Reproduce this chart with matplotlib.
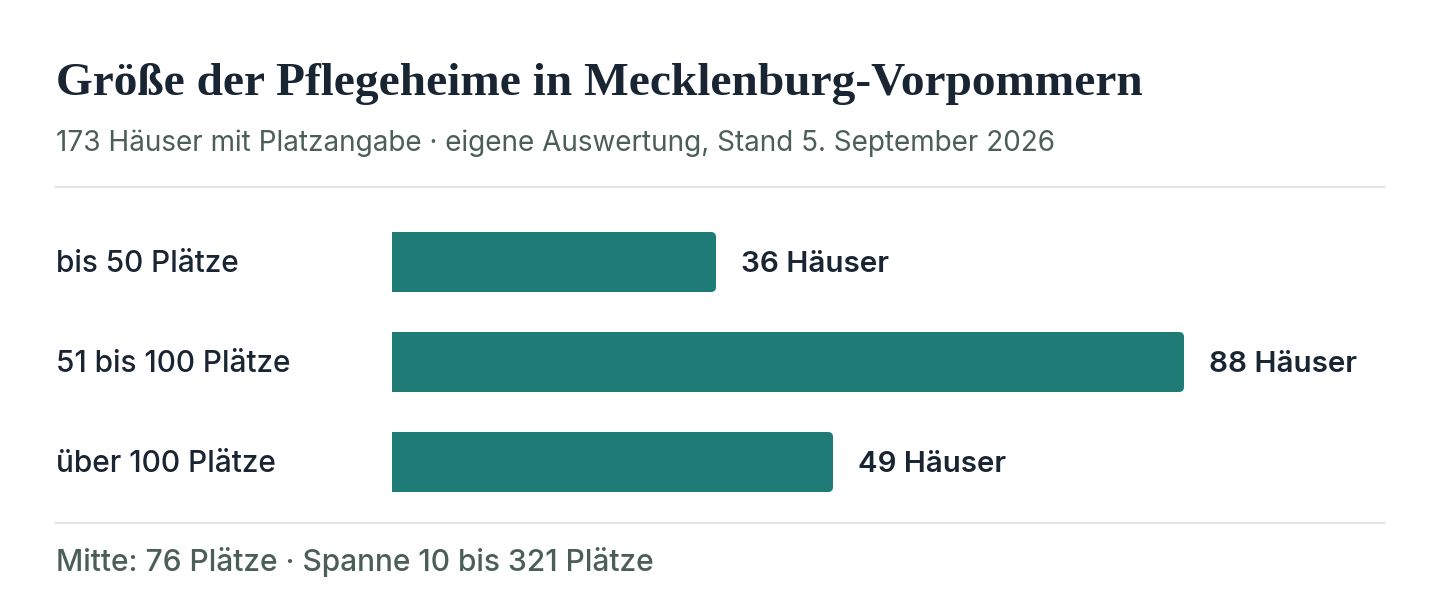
import matplotlib
matplotlib.use("Agg")
import matplotlib.pyplot as plt
from matplotlib.path import Path
from matplotlib.patches import PathPatch

# ---- data ----
categories = ["bis 50 Plätze", "51 bis 100 Plätze", "über 100 Plätze"]
counts = [36, 88, 49]
value_suffix = " Häuser"
title = "Größe der Pflegeheime in Mecklenburg-Vorpommern"
subtitle = "173 Häuser mit Platzangabe · eigene Auswertung, Stand 5. September 2026"
footer = "Mitte: 76 Plätze · Spanne 10 bis 321 Plätze"

# ---- style ----
W, H = 1440, 616
DPI = 100
BAR_COLOR = "#1e7b76"
DARK = "#1a2533"
MUTED = "#4b5e59"
RULE = "#dfe5e4"
SANS = ["Inter", "DejaVu Sans"]
SERIF = ["Liberation Serif", "DejaVu Serif"]

fig = plt.figure(figsize=(W / DPI, H / DPI), dpi=DPI)
fig.patch.set_facecolor("white")
renderer = fig.canvas.get_renderer()


def fx(px):
    return px / W


def fy(py):
    return 1 - py / H


def fit_text(x, y, s, target_w, size, **kw):
    t = fig.text(fx(x), fy(y), s, fontsize=size, **kw)
    w = t.get_window_extent(renderer).width
    t.set_fontsize(size * target_w / w)
    return t


# title / subtitle
fit_text(56, 95, title, 1086, 30, family=SERIF, weight="bold", color=DARK,
         va="baseline", ha="left")
fit_text(56, 151, subtitle, 1001, 17, family=SANS, color=MUTED,
         va="baseline", ha="left")

# rules
for yy in (187, 523):
    fig.add_artist(plt.Line2D([fx(56), fx(1384)], [fy(yy), fy(yy)],
                              color=RULE, lw=1.5, transform=fig.transFigure))

# bar axes: left edge at 392px, 9 px per unit; rows 100 px apart
ax_left, ax_right = 392, 1384
ax_top, ax_bot = 212, 512
ax = fig.add_axes([fx(ax_left), fy(ax_bot), fx(ax_right - ax_left),
                   (ax_bot - ax_top) / H])
ax.set_xlim(0, (ax_right - ax_left) / 9.0)
ax.set_ylim(len(categories) - 0.5, -0.5)
ax.axis("off")

ypos = list(range(len(categories)))
bars = ax.barh(ypos, counts, height=0.6, color=BAR_COLOR)

# replace with bars rounded on the right side only
rx = 5 / 9.0
ry = 5 / 100.0
for b in bars:
    x0, y0 = b.get_x(), b.get_y()
    w, h = b.get_width(), b.get_height()
    x1, y1 = x0 + w, y0 + h
    verts = [
        (x0, y0), (x1 - rx, y0), (x1, y0), (x1, y0 + ry),
        (x1, y1 - ry), (x1, y1), (x1 - rx, y1), (x0, y1), (x0, y0),
    ]
    codes = [Path.MOVETO, Path.LINETO, Path.CURVE3, Path.CURVE3,
             Path.LINETO, Path.CURVE3, Path.CURVE3, Path.LINETO, Path.CLOSEPOLY]
    ax.add_patch(PathPatch(Path(verts, codes), facecolor=BAR_COLOR,
                           edgecolor="none"))
    b.set_visible(False)

# category labels
label_widths = [183, 235, 220]
for i, (cat, tw) in enumerate(zip(categories, label_widths)):
    fit_text(56, 272 + 100 * i, cat, tw, 19, family=SANS, weight="medium",
             color=DARK, va="baseline", ha="left")

# value labels
for i, v in enumerate(counts):
    t = ax.text(v, i, "", ha="left", va="center")
    # place in pixels: 25 px right of bar end
    xd = ax.transData.transform((v, i))[0]
    fit_text(xd + 25, 272 + 100 * i, f"{v}{value_suffix}", 148, 19,
             family=SANS, weight="semibold", color=DARK, va="baseline",
             ha="left")

# footer
fit_text(56, 571, footer, 598, 19, family=SANS, weight="medium", color=MUTED,
         va="baseline", ha="left")

fig.savefig("out.png", dpi=DPI, facecolor="white")
